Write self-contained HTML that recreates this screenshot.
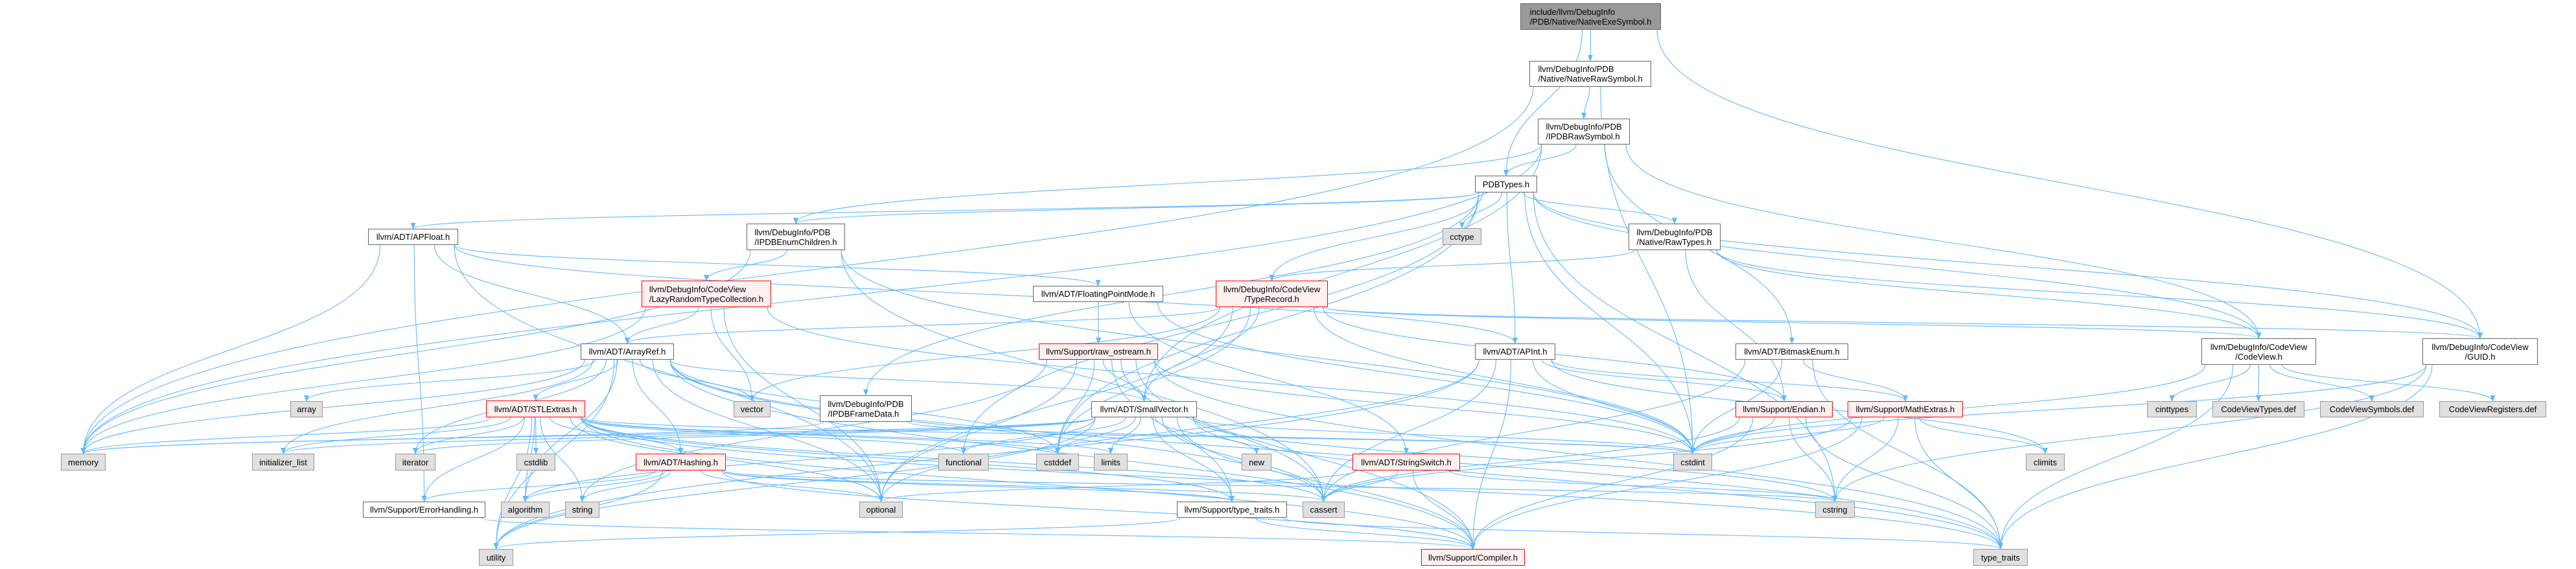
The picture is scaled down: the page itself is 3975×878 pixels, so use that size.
<!DOCTYPE html>
<html><head><meta charset="utf-8">
<style>
html,body{margin:0;padding:0;background:#fff;}
#c{position:relative;width:3975px;height:878px;overflow:hidden;font-family:"Liberation Sans",Arial,sans-serif;font-size:13px;}
svg{position:absolute;left:0;top:0;}
.n{position:absolute;box-sizing:border-box;border:1.3px solid #666;background:#fff;display:flex;align-items:center;justify-content:center;text-align:left;line-height:15px;color:#000;white-space:nowrap;}
.g{background:#e0e0e0;border-color:#999;}
.r{background:#fff0f0;border-color:#f00;}
.t{background:#999;border-color:#666;}
</style></head><body><div id="c">
<svg id="s" width="3975" height="878" viewBox="0 0 3975 878">
<defs><marker id="a" markerWidth="10" markerHeight="8" refX="9" refY="4" orient="auto" markerUnits="userSpaceOnUse"><path d="M0,0 L10,4 L0,8 z" fill="#63b8ff"/></marker></defs>
<g id="e" fill="none" stroke="#63b8ff" stroke-width="1.1" marker-end="url(#a)"></g>
</svg>
<div class="n t" style="left:2346px;top:5px;width:217px;height:41px">include/llvm/DebugInfo<br>/PDB/Native/NativeExeSymbol.h</div>
<div class="n" style="left:2360px;top:94px;width:188px;height:40px">llvm/DebugInfo/PDB<br>/Native/NativeRawSymbol.h</div>
<div class="n" style="left:2373px;top:183px;width:142px;height:40px">llvm/DebugInfo/PDB<br>/IPDBRawSymbol.h</div>
<div class="n" style="left:2276px;top:271px;width:96px;height:26px">PDBTypes.h</div>
<div class="n g" style="left:2226px;top:352px;width:60px;height:26px">cctype</div>
<div class="n" style="left:2513px;top:345px;width:142px;height:41px">llvm/DebugInfo/PDB<br>/Native/RawTypes.h</div>
<div class="n" style="left:568px;top:353px;width:139px;height:25px">llvm/ADT/APFloat.h</div>
<div class="n" style="left:1152px;top:345px;width:152px;height:41px">llvm/DebugInfo/PDB<br>/IPDBEnumChildren.h</div>
<div class="n r" style="left:990px;top:433px;width:200px;height:41px">llvm/DebugInfo/CodeView<br>/LazyRandomTypeCollection.h</div>
<div class="n" style="left:1594px;top:441px;width:201px;height:25px">llvm/ADT/FloatingPointMode.h</div>
<div class="n r" style="left:1876px;top:433px;width:173px;height:41px;text-align:center">llvm/DebugInfo/CodeView<br>/TypeRecord.h</div>
<div class="n" style="left:896px;top:530px;width:144px;height:25px">llvm/ADT/ArrayRef.h</div>
<div class="n r" style="left:1603px;top:530px;width:184px;height:25px">llvm/Support/raw_ostream.h</div>
<div class="n" style="left:2276px;top:530px;width:124px;height:25px">llvm/ADT/APInt.h</div>
<div class="n" style="left:2678px;top:530px;width:174px;height:25px">llvm/ADT/BitmaskEnum.h</div>
<div class="n" style="left:3397px;top:522px;width:177px;height:41px;text-align:center">llvm/DebugInfo/CodeView<br>/CodeView.h</div>
<div class="n" style="left:3738px;top:522px;width:178px;height:41px;text-align:center">llvm/DebugInfo/CodeView<br>/GUID.h</div>
<div class="n g" style="left:448px;top:619px;width:50px;height:25px">array</div>
<div class="n r" style="left:750px;top:618px;width:153px;height:26px">llvm/ADT/STLExtras.h</div>
<div class="n g" style="left:1132px;top:619px;width:57px;height:25px">vector</div>
<div class="n" style="left:1265px;top:610px;width:142px;height:41px">llvm/DebugInfo/PDB<br>/IPDBFrameData.h</div>
<div class="n" style="left:1684px;top:619px;width:163px;height:25px">llvm/ADT/SmallVector.h</div>
<div class="n r" style="left:2678px;top:619px;width:150px;height:25px">llvm/Support/Endian.h</div>
<div class="n r" style="left:2851px;top:619px;width:178px;height:25px">llvm/Support/MathExtras.h</div>
<div class="n g" style="left:3313px;top:619px;width:77px;height:25px">cinttypes</div>
<div class="n g" style="left:3414px;top:619px;width:142px;height:25px">CodeViewTypes.def</div>
<div class="n g" style="left:3580px;top:619px;width:160px;height:25px">CodeViewSymbols.def</div>
<div class="n g" style="left:3764px;top:619px;width:165px;height:25px">CodeViewRegisters.def</div>
<div class="n g" style="left:94px;top:700px;width:69px;height:26px">memory</div>
<div class="n g" style="left:389px;top:700px;width:96px;height:26px">initializer_list</div>
<div class="n g" style="left:610px;top:700px;width:62px;height:26px">iterator</div>
<div class="n g" style="left:797px;top:700px;width:60px;height:26px">cstdlib</div>
<div class="n r" style="left:981px;top:700px;width:139px;height:26px">llvm/ADT/Hashing.h</div>
<div class="n g" style="left:1448px;top:700px;width:78px;height:26px">functional</div>
<div class="n g" style="left:1599px;top:700px;width:66px;height:26px">cstddef</div>
<div class="n g" style="left:1688px;top:700px;width:52px;height:26px">limits</div>
<div class="n g" style="left:1916px;top:700px;width:46px;height:26px">new</div>
<div class="n r" style="left:2087px;top:700px;width:166px;height:26px">llvm/ADT/StringSwitch.h</div>
<div class="n g" style="left:2582px;top:700px;width:60px;height:26px">cstdint</div>
<div class="n g" style="left:3126px;top:700px;width:60px;height:26px">climits</div>
<div class="n" style="left:560px;top:774px;width:189px;height:25px">llvm/Support/ErrorHandling.h</div>
<div class="n g" style="left:773px;top:774px;width:75px;height:25px">algorithm</div>
<div class="n g" style="left:872px;top:774px;width:53px;height:25px">string</div>
<div class="n g" style="left:1326px;top:774px;width:67px;height:25px">optional</div>
<div class="n" style="left:1816px;top:774px;width:170px;height:25px">llvm/Support/type_traits.h</div>
<div class="n g" style="left:2010px;top:774px;width:65px;height:25px">cassert</div>
<div class="n g" style="left:2801px;top:774px;width:61px;height:25px">cstring</div>
<div class="n g" style="left:739px;top:847px;width:53px;height:26px">utility</div>
<div class="n r" style="left:2193px;top:847px;width:160px;height:26px">llvm/Support/Compiler.h</div>
<div class="n g" style="left:3045px;top:847px;width:84px;height:26px">type_traits</div>
</div>
<script>
var N={
N0:[2346,2563,5,46],NRS:[2360,2548,94,134],IRS:[2373,2515,183,223],PDBT:[2276,2372,271,297],cctype:[2226,2286,352,378],
RawT:[2513,2655,345,386],APFloat:[568,707,353,378],IEnum:[1152,1304,345,386],LRTC:[990,1190,433,474],FPM:[1594,1795,441,466],
TR:[1876,2049,433,474],AR:[896,1040,530,555],raw:[1603,1787,530,555],APInt:[2276,2400,530,555],BM:[2678,2852,530,555],
CV:[3397,3574,522,563],GUID:[3738,3916,522,563],array:[448,498,619,644],STL:[750,903,618,644],vector:[1132,1189,619,644],
IF:[1265,1407,610,651],SV:[1684,1847,619,644],End:[2678,2828,619,644],Math:[2851,3029,619,644],cinttypes:[3313,3390,619,644],
CVT:[3414,3556,619,644],CVS:[3580,3740,619,644],CVR:[3764,3929,619,644],memory:[94,163,700,726],init:[389,485,700,726],
iter:[610,672,700,726],cstdlib:[797,857,700,726],Hash:[981,1120,700,726],func:[1448,1526,700,726],cstddef:[1599,1665,700,726],
limits:[1688,1740,700,726],new:[1916,1962,700,726],SS:[2087,2253,700,726],cstdint:[2582,2642,700,726],climits:[3126,3186,700,726],
EH:[560,749,774,799],alg:[773,848,774,799],string:[872,925,774,799],opt:[1326,1393,774,799],TT:[1816,1986,774,799],
cassert:[2010,2075,774,799],cstring:[2801,2862,774,799],utility:[739,792,847,873],Comp:[2193,2353,847,873],tt:[3045,3129,847,873]};
var E="N0 NRS,N0 PDBT,N0 GUID,NRS IRS,NRS memory,NRS cstdint,IRS PDBT,IRS memory,IRS SV,IRS BM,IRS CV,IRS IEnum,"+
"PDBT cctype,PDBT RawT,PDBT APFloat,PDBT IEnum,PDBT IF,PDBT APInt,PDBT cstdint,PDBT cstddef,PDBT func,PDBT CV,PDBT GUID,PDBT cstring,PDBT TR,"+
"RawT TR,RawT End,RawT CV,RawT GUID,APFloat AR,APFloat memory,APFloat FPM,APFloat EH,APFloat APInt,APFloat opt,"+
"IEnum LRTC,IEnum memory,IEnum cassert,IEnum cstdint,LRTC AR,LRTC vector,LRTC memory,LRTC cstdint,LRTC opt,FPM raw,FPM cstdint,FPM SS,"+
"TR AR,TR SV,TR vector,TR opt,TR cstdint,TR CV,TR GUID,TR End,TR cstddef,AR array,AR STL,AR memory,AR init,AR iter,AR Hash,AR SV,AR vector,AR cassert,"+
"AR cstddef,AR alg,AR tt,AR opt,AR Comp,AR utility,raw SV,raw cstddef,raw cstdint,raw string,raw opt,raw cassert,raw tt,raw Comp,raw TT,"+
"APInt cassert,APInt Comp,APInt cstdint,APInt Math,APInt climits,APInt utility,APInt opt,APInt End,BM Math,BM cassert,BM tt,BM cstdint,"+
"CV cinttypes,CV CVT,CV CVS,CV CVR,CV cstdint,CV tt,GUID cstdint,GUID cstring,GUID tt,STL memory,STL init,STL iter,STL cstdlib,STL Hash,"+
"STL alg,STL string,STL EH,STL utility,STL cassert,STL cstddef,STL func,STL limits,STL opt,STL TT,STL tt,STL Comp,STL cstdint,"+
"SV func,SV cstddef,SV limits,SV new,SV cassert,SV cstdint,SV cstring,SV TT,SV tt,SV Comp,SV iter,SV memory,SV init,SV alg,SV utility,"+
"IF cstdint,IF memory,End cstdint,End cstring,End cassert,End Comp,End tt,Math cstdint,Math cassert,Math climits,Math cstring,Math tt,Math Comp,"+
"Hash alg,Hash string,Hash utility,Hash cassert,Hash cstring,Hash opt,Hash EH,Hash TT,Hash Comp,SS cassert,SS Comp,SS cstring,SS opt,"+
"EH Comp,TT tt,TT utility,TT Comp";
var g=document.getElementById('e'),out="";
E.split(',').forEach(function(p){var a=p.split(' '),s=N[a[0]],t=N[a[1]];if(!s||!t)return;
var sx=(s[0]+s[1])/2,sy=s[3],tx=(t[0]+t[1])/2,ty=t[2];
if(ty<=sy){ty=(t[2]+t[3])/2;tx=tx>sx?t[0]:t[1];var m=(sx+tx)/2;
out+='<path d="M'+sx+','+sy+' C'+sx+','+(sy+40)+' '+m+','+(ty)+' '+tx+','+ty+'"/>';return;}
sx=sx+Math.max(-((s[1]-s[0])/2-6),Math.min((s[1]-s[0])/2-6,(tx-sx)*0.1));
var my=(sy+ty)/2;out+='<path d="M'+sx+','+sy+' C'+sx+','+(my)+' '+tx+','+(my)+' '+tx+','+ty+'"/>';});
g.innerHTML=out;
</script>
</body></html>
